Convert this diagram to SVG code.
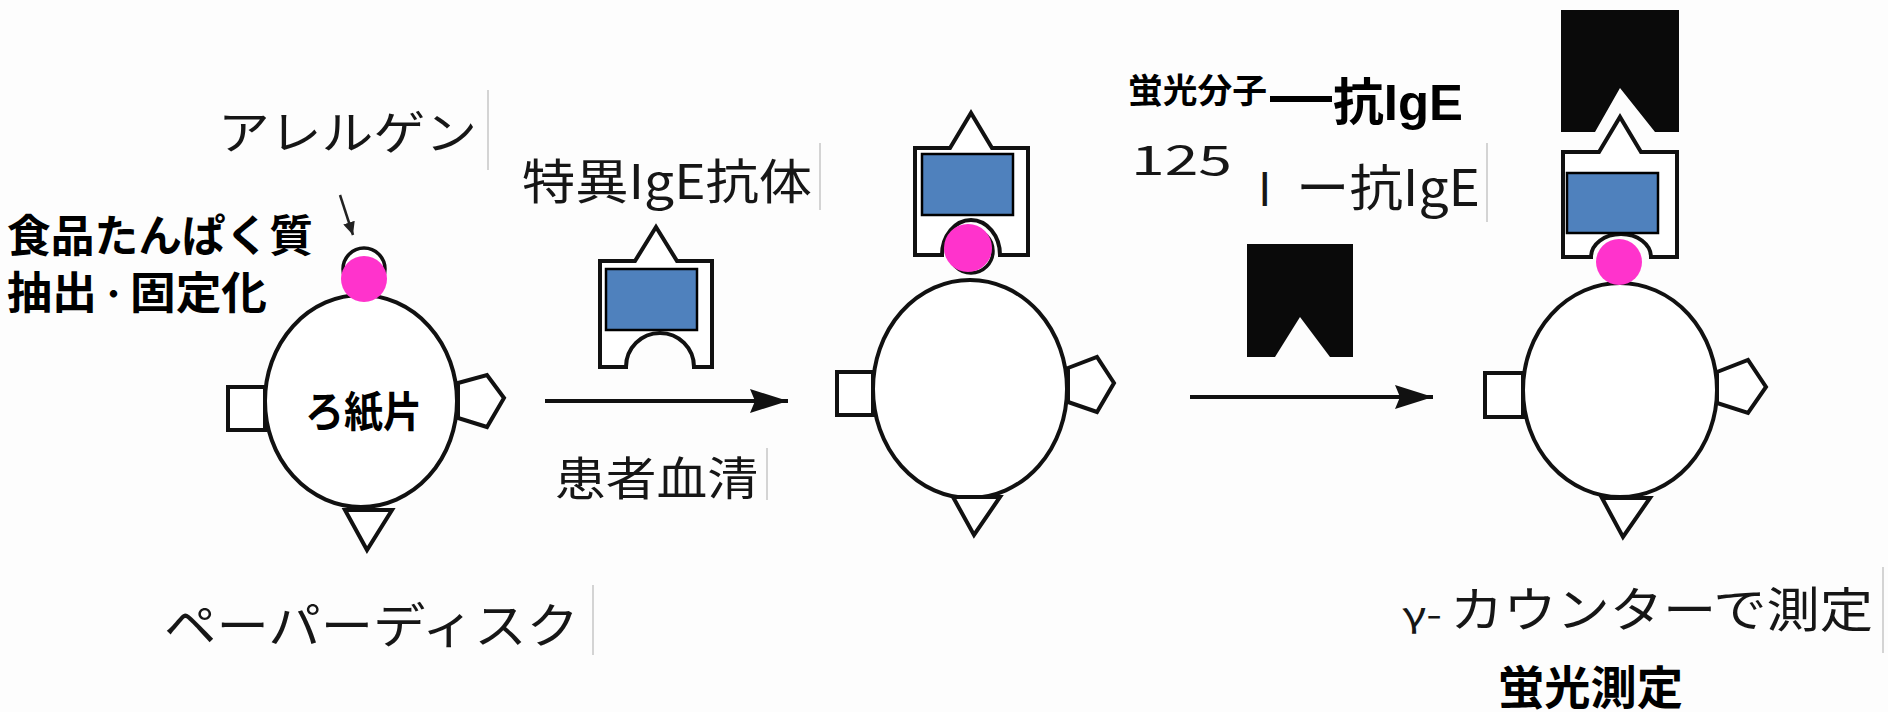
<svg xmlns="http://www.w3.org/2000/svg" width="1888" height="712" viewBox="0 0 1888 712">
  <defs>
    <style>
      .ln { fill: none; stroke: #111; stroke-width: 4; stroke-linejoin: miter; }
      .part { fill: #fff; stroke: #111; stroke-width: 4; stroke-linejoin: miter; }
      .solid { fill: #0a0a0a; stroke: none; }
      .allergen { fill: #ff33cc; stroke: none; }
      .ag-out { fill: #fff; stroke: #111; stroke-width: 3.5; }
      .ab-core { fill: #4f81bd; stroke: #000; stroke-width: 2.5; }
      .edge { stroke: #d4d4d4; stroke-width: 2; fill: none; }
      .thin { font-family: "Noto Sans CJK JP", "Liberation Sans", sans-serif; font-weight: 400; fill: #161616; }
      .bold { font-family: "Liberation Sans", "Noto Sans CJK JP", sans-serif; font-weight: 700; fill: #000; }
    </style>
    <marker id="head" markerUnits="userSpaceOnUse" markerWidth="40" markerHeight="26" refX="38" refY="13" orient="auto">
      <path d="M0,1 L38,13 L0,25 L5,13 Z" fill="#111"/>
    </marker>
    <marker id="head-sm" markerUnits="userSpaceOnUse" markerWidth="14" markerHeight="12" refX="13" refY="6" orient="auto">
      <path d="M0,0 L13,6 L0,12 Z" fill="#222"/>
    </marker>
  </defs>

  <rect width="1888" height="712" fill="#fdfdfd"/>

  <!-- faint text-box edges -->
  <g id="box-edges">
    <line class="edge" x1="488" y1="90" x2="488" y2="170"/>
    <line class="edge" x1="820" y1="143" x2="820" y2="210"/>
    <line class="edge" x1="767" y1="448" x2="767" y2="500"/>
    <line class="edge" x1="593" y1="585" x2="593" y2="655"/>
    <line class="edge" x1="1487" y1="143" x2="1487" y2="222"/>
    <line class="edge" x1="1883" y1="567" x2="1883" y2="653"/>
  </g>

  <!-- connectors -->
  <g id="connectors">
    <line class="ln" x1="545" y1="401" x2="788" y2="401" marker-end="url(#head)"/>
    <line class="ln" x1="1190" y1="397" x2="1433" y2="397" marker-end="url(#head)"/>
    <line x1="340" y1="195" x2="353" y2="235" stroke="#222" stroke-width="2.5" marker-end="url(#head-sm)"/>
  </g>

  <!-- disk 1: paper disk with immobilised allergen -->
  <g id="disk1">
    <rect class="part" x="228" y="387" width="37" height="43"/>
    <polygon class="part" points="458,383 487,375 504,398 487,427 458,418"/>
    <ellipse class="part" cx="361" cy="401" rx="96" ry="106"/>
    <polygon class="part" points="345,510 392,510 367,550"/>
    <circle class="ag-out" cx="364" cy="269" r="21"/>
    <circle class="allergen" cx="364" cy="279" r="23"/>
    <text class="bold" x="305" y="427" font-size="42" textLength="117" lengthAdjust="spacingAndGlyphs">ろ紙片</text>
  </g>

  <!-- free specific IgE antibody -->
  <g id="ige">
    <path class="part" d="M600,367 L600,261 L635,261 L656,227 L677,261 L712,261 L712,367 L694,367 A34 34 0 0 0 626,367 Z"/>
    <rect class="ab-core" x="606" y="269" width="91" height="61"/>
  </g>

  <!-- disk 2: IgE bound to allergen -->
  <g id="disk2">
    <rect class="part" x="837" y="372" width="36" height="43"/>
    <polygon class="part" points="1068,368 1097,357 1114,383 1097,412 1068,402"/>
    <ellipse class="part" cx="970" cy="389" rx="97" ry="109"/>
    <polygon class="part" points="953,497 1000,497 974,535"/>
    <path class="part" d="M915,255 L915,148 L950,148 L971,113 L992,148 L1028,148 L1028,255 L1000,255 A29 35 0 0 0 942,255 Z"/>
    <rect class="ab-core" x="922" y="154" width="91" height="61"/>
    <circle class="ag-out" cx="971" cy="251" r="22"/>
    <circle class="allergen" cx="968" cy="248" r="24"/>
  </g>

  <!-- labelled anti-IgE -->
  <g id="anti-ige">
    <path class="solid" d="M1247,244 H1353 V357 H1330 L1300,317 L1275,357 H1247 Z"/>
  </g>

  <!-- disk 3: anti-IgE bound to IgE -->
  <g id="disk3">
    <rect class="part" x="1485" y="373" width="38" height="44"/>
    <polygon class="part" points="1717,372 1748,360 1766,387 1748,413 1717,403"/>
    <ellipse class="part" cx="1620" cy="390" rx="97" ry="107"/>
    <polygon class="part" points="1602,498 1650,498 1623,537"/>
    <path class="part" d="M1563,257 L1563,152 L1599,152 L1620,117 L1641,152 L1677,152 L1677,257 L1651,257 A30 23 0 0 0 1591,257 Z"/>
    <rect class="ab-core" x="1567" y="173" width="91" height="60"/>
    <circle class="allergen" cx="1619" cy="262" r="23"/>
    <path class="solid" d="M1561,10 H1679 V132 H1655 L1620,88 L1595,132 H1561 Z"/>
  </g>

  <!-- labels -->
  <g id="labels">
    <text class="thin" x="218" y="149" font-size="46" textLength="259" lengthAdjust="spacingAndGlyphs">アレルゲン</text>
    <text class="bold" x="7" y="252" font-size="44" textLength="306" lengthAdjust="spacingAndGlyphs">食品たんぱく質</text>
    <text class="bold" x="7" y="309" font-size="44" textLength="90" lengthAdjust="spacingAndGlyphs">抽出</text>
    <text class="bold" x="99" y="305" font-size="29">・</text>
    <text class="bold" x="130" y="309" font-size="44" textLength="137" lengthAdjust="spacingAndGlyphs">固定化</text>
    <text class="thin" x="522" y="199" font-size="48" textLength="290" lengthAdjust="spacingAndGlyphs">特異IgE抗体</text>
    <text class="thin" x="555" y="495" font-size="46" textLength="203" lengthAdjust="spacingAndGlyphs">患者血清</text>
    <text class="thin" x="164" y="643" font-size="48" textLength="415" lengthAdjust="spacingAndGlyphs">ペーパーディスク</text>
    <text class="bold" x="1128" y="103" font-size="34" textLength="139" lengthAdjust="spacingAndGlyphs">蛍光分子</text>
    <text class="bold" x="1270" y="115" font-size="62">—</text>
    <text class="bold" x="1333" y="120" font-size="50" textLength="130" lengthAdjust="spacingAndGlyphs">抗IgE</text>
    <text class="thin" x="1131" y="175" font-size="40" textLength="101" lengthAdjust="spacingAndGlyphs">125</text>
    <text class="thin" x="1258" y="206" font-size="46">I</text>
    <text class="thin" x="1296" y="206" font-size="50" textLength="184" lengthAdjust="spacingAndGlyphs">ー抗IgE</text>
    <text class="thin" x="1402" y="627" font-size="34" textLength="40" lengthAdjust="spacingAndGlyphs">γ-</text>
    <text class="thin" x="1450" y="627" font-size="48" textLength="423" lengthAdjust="spacingAndGlyphs">カウンターで測定</text>
    <text class="bold" x="1498" y="704" font-size="46" textLength="185" lengthAdjust="spacingAndGlyphs">蛍光測定</text>
  </g>
</svg>
